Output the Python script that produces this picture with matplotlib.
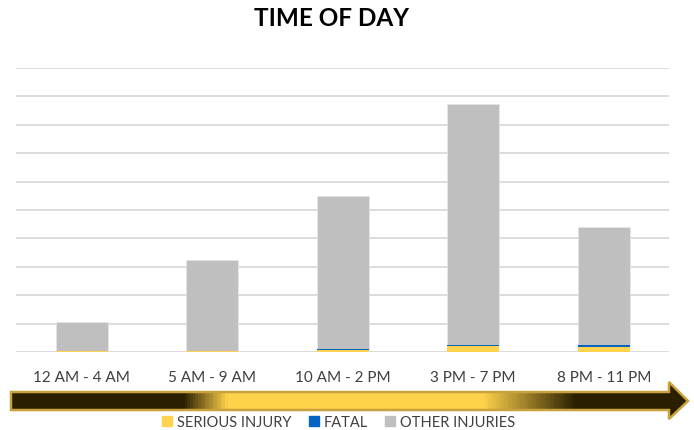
import matplotlib
matplotlib.use("Agg")
import matplotlib.pyplot as plt
import numpy as np
from matplotlib.patches import Polygon, Patch
from matplotlib.colors import LinearSegmentedColormap

categories = ["12 AM - 4 AM", "5 AM - 9 AM", "10 AM - 2 PM", "3 PM - 7 PM", "8 PM - 11 PM"]
serious = [3, 3, 8, 20, 19]
fatal = [0.5, 2, 4, 5, 4]
other = [101, 318, 537, 847, 416]

C_SER = "#FFD34E"
C_FAT = "#0563C1"
C_OTH = "#BFBFBF"

plt.rcParams["font.family"] = ["Lato", "DejaVu Sans"]

W, H = 694, 431
fig = plt.figure(figsize=(W / 100, H / 100), dpi=100)
ax = fig.add_axes([16.4 / W, 1 - 353 / H, (669 - 16.4) / W, (353 - 69) / H])

x = np.arange(len(categories))
bw = 0.4
s = np.array(serious, float)
f = np.array(fatal, float)
o = np.array(other, float)
ax.bar(x, o, bw, bottom=s + f, color=C_OTH, edgecolor="#e8e8e8", linewidth=0.5, zorder=3)
ax.bar(x, s, bw, color=C_SER, edgecolor="none", zorder=4)
ax.bar(x, f, bw, bottom=s, color=C_FAT, edgecolor="none", zorder=5)

ax.set_xlim(-0.5, len(categories) - 0.5)
ax.set_ylim(0, 1000)
ax.set_yticks(np.arange(0, 1001, 100))
ax.yaxis.grid(True, color="#d9d9d9", linewidth=1.3, zorder=0)
ax.set_yticklabels([])
ax.tick_params(axis="y", length=0)
ax.tick_params(axis="x", length=0, pad=13, labelsize=11, labelcolor="#404040")
ax.set_xticks(x)
ax.set_xticklabels(categories)
for sp in ax.spines.values():
    sp.set_visible(False)
ax.set_axisbelow(True)

fig.text(332 / W, 1 - 19 / H, "TIME OF DAY", ha="center", va="center",
         fontsize=17.5, fontweight="bold", color="#000000")

# gradient arrow overlay
ov = fig.add_axes([0, 0, 1, 1], zorder=5)
ov.axis("off")
pts = [(11, 393), (669, 393), (669, 383), (688, 402), (669, 420), (669, 411), (11, 411)]
dark = "#2A2000"
gold = "#FFD24C"
stops = [(0.0, dark), (183 / 694, dark), (227 / 694, gold), (484 / 694, gold),
         (577 / 694, dark), (1.0, dark)]
cmap = LinearSegmentedColormap.from_list("arr", stops)
grad = np.linspace(0, 1, 694).reshape(1, -1)
im = ov.imshow(grad, cmap=cmap, extent=(0, 694, 420, 383), aspect="auto", zorder=5)
poly = Polygon(pts, closed=True, facecolor="none", edgecolor="#C9A23E", linewidth=1.8, zorder=6)
ov.add_patch(poly)
clip = Polygon(pts, closed=True, transform=ov.transData)
im.set_clip_path(clip)
ov.set_xlim(0, W)
ov.set_ylim(H, 0)

handles = [Patch(color=C_SER, label="SERIOUS INJURY"),
           Patch(color=C_FAT, label="FATAL"),
           Patch(color=C_OTH, label="OTHER INJURIES")]
fig.legend(handles=handles, loc="center", bbox_to_anchor=(338.5 / W, 1 - 423 / H), ncol=3,
           frameon=False, fontsize=10.5, handlelength=0.7, handleheight=0.7,
           handletextpad=0.3, columnspacing=1.2, labelcolor="#404040")

fig.savefig("out.png", dpi=100)
